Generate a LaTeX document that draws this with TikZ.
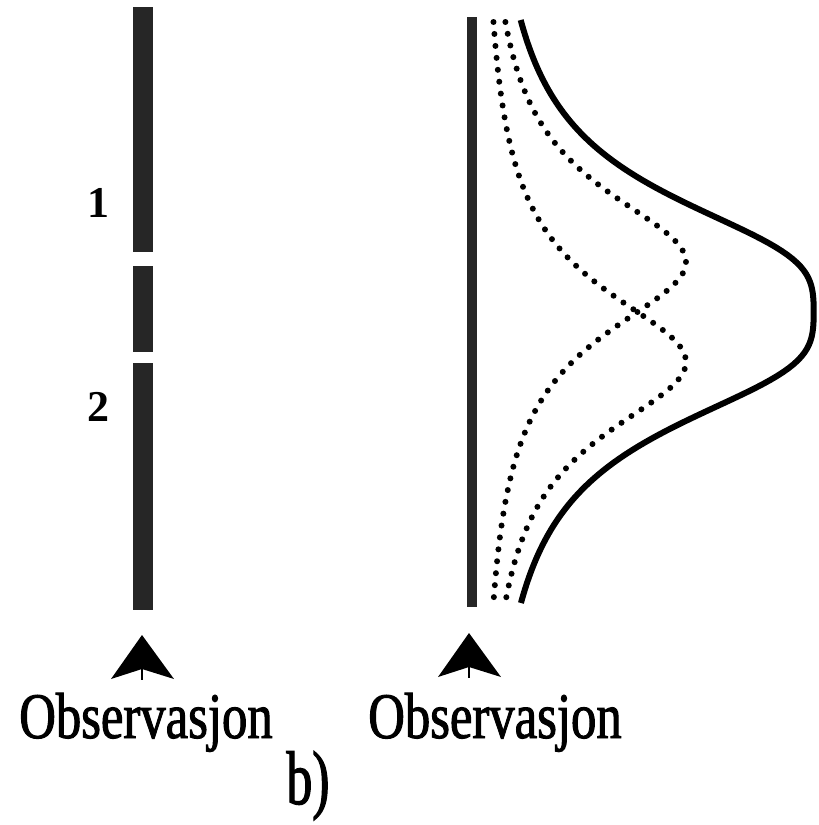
\documentclass[tikz,border=0pt]{standalone}
\usepackage{fontspec}
\setmainfont{Liberation Serif}
\newfontfamily\narrowserif[FakeStretch=0.78,FakeBold=1.5]{Liberation Serif}
\newfontfamily\capserif[FakeStretch=0.68,FakeBold=1.5]{Liberation Serif}

\begin{document}
\begin{tikzpicture}[x=1pt,y=-1pt,
  bar/.style={fill=black!85},
  peak/.style={line width=6pt,line cap=round,dash pattern=on 0pt off 12pt},
  obs/.style={anchor=base,inner sep=0pt,font=\narrowserif\fontsize{65}{70}\selectfont},
  num/.style={anchor=east,inner sep=0pt,font=\fontsize{44}{44}\selectfont\bfseries}]
\useasboundingbox (0,0) rectangle (819,825);
% left: the two sections of the record
\fill[bar] (133,7) rectangle (153,252);
\fill[bar] (133,266) rectangle (153,352);
\fill[bar] (133,363) rectangle (153,610);
\node[num] (one) at (110,203) {1};
\node[num] (two) at (110,407) {2};
% right: smeared record and its two peaks
\fill[bar] (467,17) rectangle (477,607);
\draw[peak] plot[domain=22:598,samples=150,variable=\t] ({480+206/(1+((\t-262)/90)^2)},\t);
\draw[peak] plot[domain=22:598,samples=150,variable=\t] ({480+206/(1+((\t-362)/90)^2)},\t);
\draw[line width=6pt] plot[domain=20:603,samples=150,variable=\t]
  ({480+1.06*(206/(1+((\t-262)/90)^2)+206/(1+((\t-362)/90)^2))},\t);
% observation marks
\foreach \ax/\ay in {142/635,469/633}{
  \fill (\ax,\ay) -- ++(32,44) -- ++(-32,-10) -- ++(-31,10) -- cycle;
  \draw[line width=1.5pt] (\ax,\ay+34) -- ++(0,11);
}
\node[obs] (obsL) at (146,738) {Observasjon};
\node[obs] (obsR) at (495,738) {Observasjon};
\node[anchor=base,inner sep=0pt,font=\capserif\fontsize{76}{76}\selectfont] (part) at (308,804) {b)};
\end{tikzpicture}
\end{document}
